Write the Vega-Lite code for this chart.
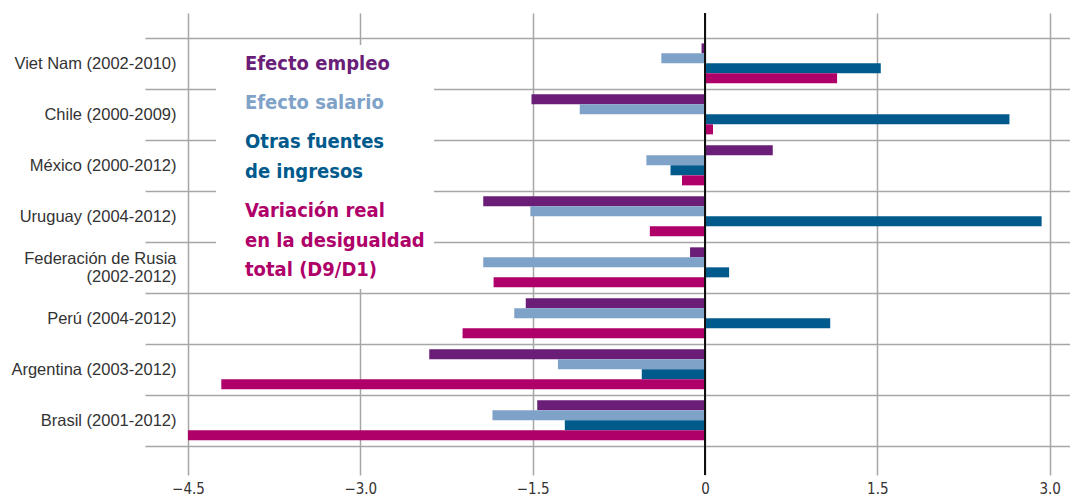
{
  "$schema": "https://vega.github.io/schema/vega-lite/v6.json",
  "width": 925,
  "height": 462,
  "autosize": {"type": "none"},
  "padding": {"left": 145, "top": 13, "right": 0, "bottom": 22},
  "background": "white",
  "config": {"view": {"stroke": null}},
  "data": {
    "values": [
      {"pais": "Viet Nam (2002-2010)", "serie": "Efecto empleo", "valor": -0.03},
      {"pais": "Viet Nam (2002-2010)", "serie": "Efecto salario", "valor": -0.38},
      {"pais": "Viet Nam (2002-2010)", "serie": "Otras fuentes de ingresos", "valor": 1.53},
      {"pais": "Viet Nam (2002-2010)", "serie": "Variación real en la desigualdad total (D9/D1)", "valor": 1.15},
      {"pais": "Chile (2000-2009)", "serie": "Efecto empleo", "valor": -1.51},
      {"pais": "Chile (2000-2009)", "serie": "Efecto salario", "valor": -1.09},
      {"pais": "Chile (2000-2009)", "serie": "Otras fuentes de ingresos", "valor": 2.65},
      {"pais": "Chile (2000-2009)", "serie": "Variación real en la desigualdad total (D9/D1)", "valor": 0.07},
      {"pais": "México (2000-2012)", "serie": "Efecto empleo", "valor": 0.59},
      {"pais": "México (2000-2012)", "serie": "Efecto salario", "valor": -0.51},
      {"pais": "México (2000-2012)", "serie": "Otras fuentes de ingresos", "valor": -0.30},
      {"pais": "México (2000-2012)", "serie": "Variación real en la desigualdad total (D9/D1)", "valor": -0.20},
      {"pais": "Uruguay (2004-2012)", "serie": "Efecto empleo", "valor": -1.93},
      {"pais": "Uruguay (2004-2012)", "serie": "Efecto salario", "valor": -1.52},
      {"pais": "Uruguay (2004-2012)", "serie": "Otras fuentes de ingresos", "valor": 2.93},
      {"pais": "Uruguay (2004-2012)", "serie": "Variación real en la desigualdad total (D9/D1)", "valor": -0.48},
      {"pais": "Federación de Rusia (2002-2012)", "serie": "Efecto empleo", "valor": -0.13},
      {"pais": "Federación de Rusia (2002-2012)", "serie": "Efecto salario", "valor": -1.93},
      {"pais": "Federación de Rusia (2002-2012)", "serie": "Otras fuentes de ingresos", "valor": 0.21},
      {"pais": "Federación de Rusia (2002-2012)", "serie": "Variación real en la desigualdad total (D9/D1)", "valor": -1.84},
      {"pais": "Perú (2004-2012)", "serie": "Efecto empleo", "valor": -1.56},
      {"pais": "Perú (2004-2012)", "serie": "Efecto salario", "valor": -1.66},
      {"pais": "Perú (2004-2012)", "serie": "Otras fuentes de ingresos", "valor": 1.09},
      {"pais": "Perú (2004-2012)", "serie": "Variación real en la desigualdad total (D9/D1)", "valor": -2.11},
      {"pais": "Argentina (2003-2012)", "serie": "Efecto empleo", "valor": -2.40},
      {"pais": "Argentina (2003-2012)", "serie": "Efecto salario", "valor": -1.28},
      {"pais": "Argentina (2003-2012)", "serie": "Otras fuentes de ingresos", "valor": -0.55},
      {"pais": "Argentina (2003-2012)", "serie": "Variación real en la desigualdad total (D9/D1)", "valor": -4.21},
      {"pais": "Brasil (2001-2012)", "serie": "Efecto empleo", "valor": -1.46},
      {"pais": "Brasil (2001-2012)", "serie": "Efecto salario", "valor": -1.85},
      {"pais": "Brasil (2001-2012)", "serie": "Otras fuentes de ingresos", "valor": -1.22},
      {"pais": "Brasil (2001-2012)", "serie": "Variación real en la desigualdad total (D9/D1)", "valor": -4.50}
    ]
  },
  "layer": [
    {
      "mark": {"type": "bar"},
      "encoding": {
        "y": {
          "field": "pais",
          "type": "nominal",
          "sort": null,
          "scale": {"paddingInner": 0, "paddingOuter": 0.53, "align": 0.46},
          "axis": {
            "title": null,
            "domain": false,
            "ticks": false,
            "tickSize": 0,
            "labelPadding": -31,
            "tickBand": "extent",
            "grid": true,
            "gridColor": "#a6a6a6",
            "gridWidth": 1.5,
            "labelFont": "Liberation Sans",
            "labelFontSize": 16.5,
            "labelColor": "#333333",
            "labelLimit": 300,
            "labelLineHeight": 18,
            "labelOffset": {"condition": {"test": "datum.value == 'Federación de Rusia (2002-2012)'", "value": -9}, "value": 0},
            "labelExpr": "datum.value == 'Federación de Rusia (2002-2012)' ? ['Federación de Rusia', '(2002-2012)'] : datum.label"
          }
        },
        "yOffset": {
          "field": "serie",
          "type": "nominal",
          "sort": ["Efecto empleo", "Efecto salario", "Otras fuentes de ingresos", "Variación real en la desigualdad total (D9/D1)"],
          "scale": {"paddingInner": 0, "paddingOuter": 0.55}
        },
        "x": {
          "field": "valor",
          "type": "quantitative",
          "scale": {"domain": [-4.874, 3.177], "nice": false, "zero": false},
          "axis": {
            "title": null,
            "domain": false,
            "ticks": false,
            "values": [-4.5, -3, -1.5, 0, 1.5, 3],
            "grid": true,
            "gridColor": "#a6a6a6",
            "gridWidth": 1.5,
            "labelFlush": false,
            "labelExpr": "datum.value == 0 ? '0' : format(datum.value, '.1f')",
            "labelFont": "DejaVu Sans Condensed",
            "labelFontSize": 15,
            "labelColor": "#333333",
            "labelPadding": 6
          }
        },
        "color": {
          "field": "serie",
          "type": "nominal",
          "scale": {
            "domain": ["Efecto empleo", "Efecto salario", "Otras fuentes de ingresos", "Variación real en la desigualdad total (D9/D1)"],
            "range": ["#6a1e78", "#7fa2c8", "#005a8c", "#af0069"]
          },
          "legend": {
            "orient": "none",
            "legendX": 71,
            "legendY": 32,
            "title": null,
            "symbolSize": 0,
            "symbolOpacity": 0,
            "symbolStrokeWidth": 0,
            "labelOffset": 0,
            "padding": 9,
            "fillColor": "white",
            "labelFont": "DejaVu Sans Condensed",
            "labelFontSize": 20,
            "labelFontWeight": "bold",
            "labelLimit": 400,
            "rowPadding": 19,
            "labelExpr": "datum.label == 'Otras fuentes de ingresos' ? ['Otras fuentes', 'de ingresos'] : datum.label == 'Variación real en la desigualdad total (D9/D1)' ? ['Variación real', 'en la desigualdad', 'total (D9/D1)'] : datum.label",
            "encode": {
              "labels": {
                "update": {
                  "fill": {"scale": "color", "field": "value"},
                  "lineHeight": {"value": 29.5}
                }
              }
            }
          }
        }
      }
    },
    {
      "mark": {"type": "rule", "color": "#111111", "strokeWidth": 1.5},
      "encoding": {"x": {"datum": 0}}
    }
  ]
}
